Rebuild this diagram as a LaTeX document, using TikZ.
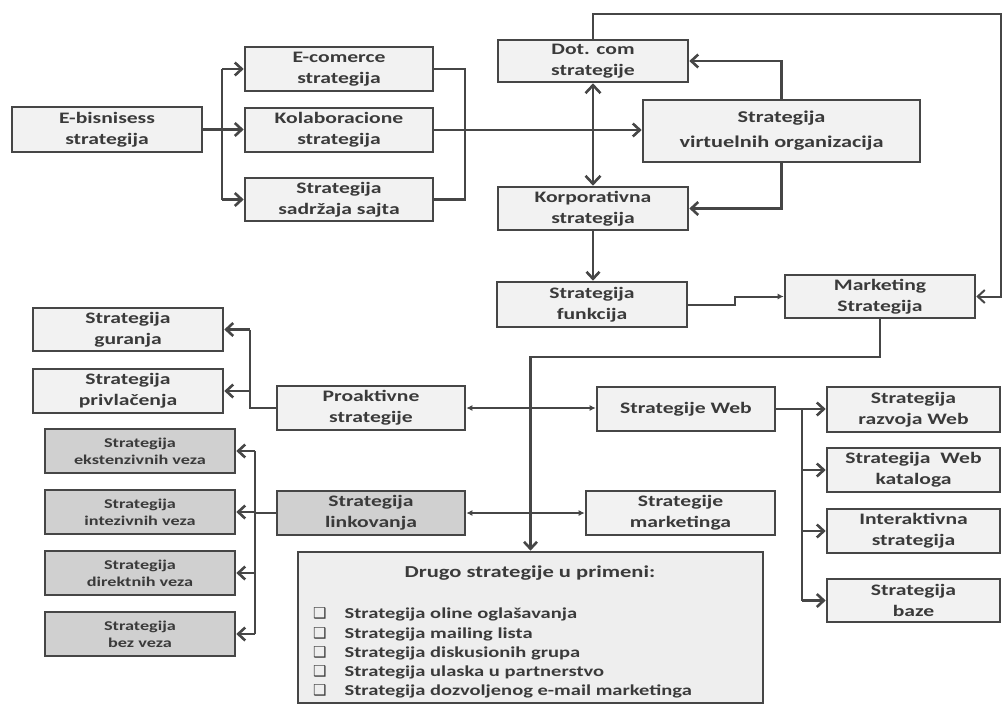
\documentclass[tikz,border=0pt]{standalone}
\usepackage{fontspec}
\setmainfont{Carlito}[FakeStretch=1.35]
\newfontfamily\symf{DejaVu Sans}
\usetikzlibrary{arrows.meta}
\definecolor{ln}{HTML}{464646}
\definecolor{tx}{HTML}{3A3A3A}
\definecolor{bf}{HTML}{F2F2F2}
\definecolor{gf}{HTML}{D0D0D0}
\definecolor{df}{HTML}{EEEEEE}
\newcommand{\cbx}{{\symf\fontsize{15}{15}\selectfont ❑}\hspace{18pt}}
\begin{document}
\begin{tikzpicture}[x=1pt,y=-1pt,
  box/.style={draw=ln, line width=2.6pt, fill=bf, text=tx, align=center, inner sep=0pt, font=\fontsize{16}{21}\selectfont\bfseries},
  gbox/.style={box, fill=gf, font=\fontsize{13.5}{17}\selectfont\bfseries},
  item/.style={anchor=base west, text=tx, inner sep=0pt, font=\fontsize{15.2}{18}\selectfont\bfseries},
  con/.style={draw=ln, line width=2.6pt},
  arr/.style={con, -{Straight Barb[length=7pt,width=13pt]}},
  darr/.style={con, {Straight Barb[length=8pt,width=15pt]}-{Straight Barb[length=8pt,width=15pt]}},
  dsarr/.style={draw=ln, line width=2pt, {Latex[length=6pt,width=6pt]}-{Latex[length=6pt,width=6pt]}},
  sarr/.style={draw=ln, line width=2pt, -{Latex[length=6pt,width=6pt]}},
]
\useasboundingbox (0,0) rectangle (1003,706);
% top row
\node[box, minimum width=190pt, minimum height=45pt] (ebiz) at (107,129.5) {E-bisnisess\\strategija};
\node[box, minimum width=188pt, minimum height=44pt] (ecom) at (339,69) {E-comerce\\strategija};
\node[box, minimum width=188pt, minimum height=44pt] (kolab) at (339,130) {Kolaboracione\\strategija};
\node[box, minimum width=188pt, minimum height=43pt] (sadrz) at (339,199.5) {Strategija\\sadržaja sajta};
\node[box, minimum width=190pt, minimum height=42pt] (dotcom) at (593,61) {Dot. com\\strategije};
\node[box, minimum width=277pt, minimum height=62pt, font=\fontsize{16.5}{25}\selectfont\bfseries] (virt) at (781.5,131) {Strategija\\virtuelnih organizacija};
\node[box, minimum width=190pt, minimum height=43pt] (korp) at (593,208.5) {Korporativna\\strategija};
\node[box, minimum width=190pt, minimum height=45pt] (funk) at (592,304.5) {Strategija\\funkcija};
\node[box, minimum width=190pt, minimum height=43pt] (mark) at (880,296.5) {Marketing\\Strategija};
% middle
\node[box, minimum width=190pt, minimum height=43pt] (gur) at (128,329.5) {Strategija\\guranja};
\node[box, minimum width=190pt, minimum height=44pt] (priv) at (128,391) {Strategija\\privlačenja};
\node[box, minimum width=188pt, minimum height=44pt] (proakt) at (371,408) {Proaktivne\\strategije};
\node[box, minimum width=178pt, minimum height=44pt] (web) at (686,409) {Strategije Web};
\node[box, minimum width=173pt, minimum height=45pt] (razv) at (913.5,409.5) {Strategija\\razvoja Web};
\node[box, minimum width=173pt, minimum height=44pt] (katal) at (913.5,470) {Strategija~ Web\\kataloga};
\node[box, minimum width=173pt, minimum height=44pt] (inter) at (913.5,531) {Interaktivna\\strategija};
\node[box, minimum width=173pt, minimum height=43pt] (baze) at (913.5,600.5) {Strategija\\baze};
% linking
\node[gbox, minimum width=190pt, minimum height=44pt] (eks) at (140,451) {Strategija\\ekstenzivnih veza};
\node[gbox, minimum width=190pt, minimum height=44pt] (intez) at (140,512) {Strategija\\intezivnih veza};
\node[gbox, minimum width=190pt, minimum height=44pt] (dir) at (140,573) {Strategija\\direktnih veza};
\node[gbox, minimum width=190pt, minimum height=44pt] (bez) at (140,634) {Strategija\\bez veza};
\node[box, fill=gf, minimum width=188pt, minimum height=44pt] (link) at (371,513) {Strategija\\linkovanja};
\node[box, minimum width=189pt, minimum height=44pt] (mktg) at (680.5,513) {Strategije\\marketinga};
% other strategies
\node[box, fill=df, minimum width=465pt, minimum height=151pt] (drugo) at (530.5,627.5) {};
\node[text=tx, inner sep=0pt, font=\fontsize{16.7}{20}\selectfont\bfseries] (dt) at (530,573) {Drugo strategije u primeni:};
\node[item] (d1) at (313,618.5) {\cbx Strategija oline oglašavanja};
\node[item] (d2) at (313,638) {\cbx Strategija mailing lista};
\node[item] (d3) at (313,657.5) {\cbx Strategija diskusionih grupa};
\node[item] (d4) at (313,676.5) {\cbx Strategija ulaska u partnerstvo};
\node[item] (d5) at (313,695.5) {\cbx Strategija dozvoljenog e-mail marketinga};
% connectors: e-business fork
\coordinate (ef) at (222,129.5);
\draw[con] (ebiz.east) -- (ef);
\draw[con] (ef |- ecom.west) -- (ef |- sadrz.west);
\draw[arr] (ef |- ecom.west) -- (ecom.west);
\draw[arr] (ef) -- (ef -| kolab.west);
\draw[arr] (ef |- sadrz.west) -- (sadrz.west);
% bracket
\coordinate (br) at (465,130);
\draw[con] (ecom.east) -| (br |- sadrz.east) -- (sadrz.east);
\draw[arr] (kolab.east) -- (kolab.east -| virt.west);
% dot com / corporate
\draw[arr] (virt.north) |- (dotcom.east);
\draw[arr] (virt.south) |- (korp.east);
\draw[darr] (dotcom.south) -- (korp.north);
\draw[arr] (korp.south) -- (korp.south |- funk.north);
\draw[sarr] (funk.east) -- (735,304.5) -- (735,296.5) -- (mark.west);
\draw[con, line width=2pt, -{Straight Barb[length=7pt,width=13pt]}] (dotcom.north) |- (1000.5,14) |- (mark.east);
\draw[arr] (mark.south) |- (drugo.north |- 0,357) -- (drugo.north);
% proactive fork
\coordinate (pf) at (250,408);
\draw[con] (proakt.west) -- (pf) -- (pf |- gur.east);
\draw[arr] (pf |- gur.east) -- (gur.east);
\draw[arr] (pf |- priv.east) -- (priv.east);
\draw[dsarr] (proakt.east) -- (proakt.east -| web.west);
% web fork
\coordinate (wf) at (802,409);
\draw[con] (web.east) -- (wf) -- (wf |- baze.west);
\draw[arr] (wf) -- (wf -| razv.west);
\draw[arr] (wf |- katal.west) -- (katal.west);
\draw[arr] (wf |- inter.west) -- (inter.west);
\draw[arr] (wf |- baze.west) -- (baze.west);
% linking fork
\coordinate (lf) at (255,513);
\draw[con] (link.west) -- (lf);
\draw[con] (lf |- eks.east) -- (lf |- bez.east);
\draw[arr] (lf |- eks.east) -- (eks.east);
\draw[arr] (lf |- intez.east) -- (intez.east);
\draw[arr] (lf |- dir.east) -- (dir.east);
\draw[arr] (lf |- bez.east) -- (bez.east);
\draw[dsarr] (link.east) -- (link.east -| mktg.west);
\end{tikzpicture}
\end{document}
